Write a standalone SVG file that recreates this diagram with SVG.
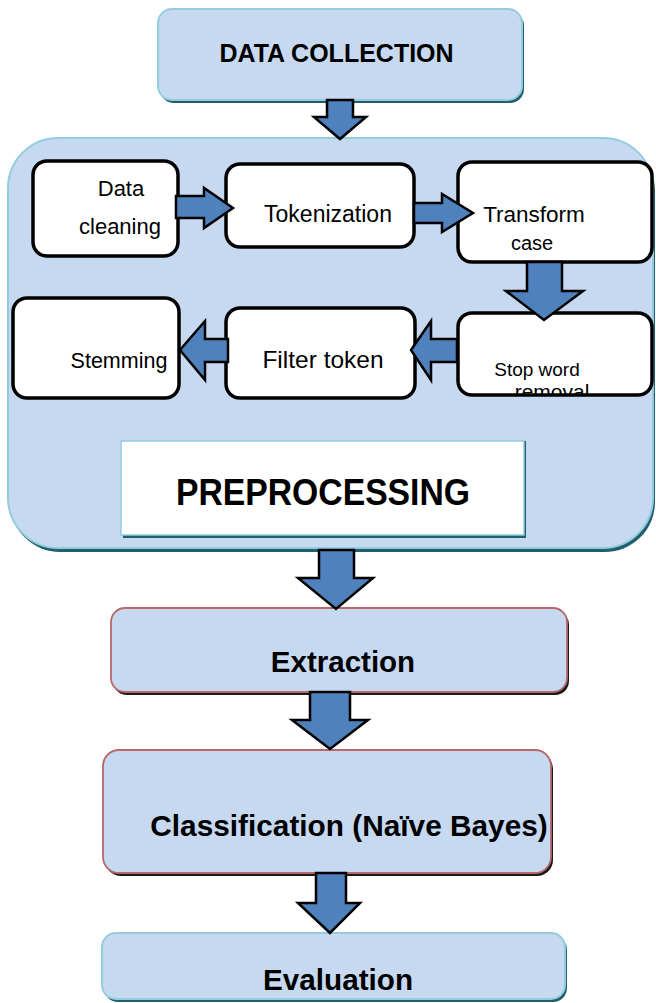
<svg xmlns="http://www.w3.org/2000/svg" width="656" height="1003" viewBox="0 0 656 1003">
<style>
.main{fill:#c6d9f1;stroke:#93cddd;stroke-width:2}
.red{fill:#c6d9f1;stroke:#b9676a;stroke-width:1.8}
.shT{fill:#215f6e}
.shK{fill:#1a1a1a}
.inner{fill:#ffffff;stroke:#000000;stroke-width:3.5}
.arr{fill:#4f81bd;stroke:#000000;stroke-width:2.5;stroke-linejoin:miter}
.t{font-family:"Liberation Sans",Arial,sans-serif;fill:#000000;text-anchor:middle}
.b{font-weight:bold}
</style>
<defs>
<clipPath id="clipStop"><rect x="458" y="313" width="194" height="82"/></clipPath>
</defs>

<g id="data-collection">
<rect class="shT" x="160" y="12" width="364" height="91" rx="14"/>
<rect class="main" x="158" y="9" width="364" height="91" rx="14"/>
<text class="t b" x="336.5" y="62" font-size="25">DATA COLLECTION</text>
</g>

<g id="preprocessing">
<rect class="shT" x="10" y="141" width="645" height="411" rx="50"/>
<rect class="main" x="8" y="138" width="645" height="410" rx="50"/>
<rect class="shT" x="123" y="441" width="403" height="97"/>
<rect x="121" y="441" width="403" height="94" fill="#ffffff" stroke="#93cddd" stroke-width="1.5"/>
<text class="t b" x="323" y="505" font-size="37" textLength="294" lengthAdjust="spacingAndGlyphs">PREPROCESSING</text>
</g>

<g id="data-cleaning">
<rect class="inner" x="33" y="161" width="145" height="95" rx="14"/>
<text class="t" x="121" y="196" font-size="22">Data</text>
<text class="t" x="120" y="234" font-size="22">cleaning</text>
</g>

<g id="tokenization">
<rect class="inner" x="226" y="164" width="188" height="83" rx="14"/>
<text class="t" x="328" y="222" font-size="23">Tokenization</text>
</g>

<g id="transform-case">
<rect class="inner" x="458" y="162" width="194" height="100" rx="14"/>
<text class="t" x="534" y="222" font-size="22.5">Transform</text>
<text class="t" x="532" y="250" font-size="20">case</text>
</g>

<g id="stop-word-removal">
<rect x="458" y="313" width="194" height="82" rx="14" fill="#ffffff"/>
<g clip-path="url(#clipStop)">
<text class="t" x="537" y="376" font-size="19">Stop word</text>
<text class="t" x="552" y="399" font-size="21">removal</text>
</g>
<rect x="458" y="313" width="194" height="82" rx="14" fill="none" stroke="#000000" stroke-width="3.5"/>
</g>

<g id="filter-token">
<rect class="inner" x="226" y="308" width="189" height="90" rx="14"/>
<text class="t" x="323" y="368" font-size="24.5">Filter token</text>
</g>

<g id="stemming">
<rect class="inner" x="13" y="298" width="166" height="100" rx="14"/>
<text class="t" x="119" y="368" font-size="21.5">Stemming</text>
</g>

<g id="extraction">
<rect class="shK" x="113" y="611" width="456" height="84" rx="14"/>
<rect class="red" x="111" y="608" width="456" height="84" rx="14"/>
<text class="t b" x="343" y="672" font-size="29.5">Extraction</text>
</g>

<g id="classification">
<rect class="shK" x="105" y="753" width="448" height="123" rx="16"/>
<rect class="red" x="103" y="750" width="448" height="123" rx="16"/>
<text class="t b" x="349" y="836" font-size="29.8">Classification (Naïve Bayes)</text>
</g>

<g id="evaluation">
<rect class="shT" x="104" y="936" width="463" height="66" rx="14"/>
<rect class="main" x="102" y="933" width="463" height="66" rx="14"/>
<text class="t b" x="338" y="990" font-size="29.7">Evaluation</text>
</g>

<g id="connectors">
<polygon class="arr" points="327,100 353,100 353,117 366,117 340,139 314,117 327,117"/>
<polygon class="arr" points="176,196 204,196 204,188 233,208 204,228 204,218 176,218"/>
<polygon class="arr" points="414,203 442,203 442,194 473,213 442,232 442,223 414,223"/>
<polygon class="arr" points="527,262 562,262 562,291 583,291 544,320 506,291 527,291"/>
<polygon class="arr" points="457,339 431,339 431,321 411,350 431,380 431,362 457,362"/>
<polygon class="arr" points="228,339 205,339 205,321 180,350 205,380 205,362 228,362"/>
<polygon class="arr" points="319,550 354,550 354,578 373,578 336,609 298,578 319,578"/>
<polygon class="arr" points="310,692 350,692 350,720 368,720 330,749 292,720 310,720"/>
<polygon class="arr" points="316,873 346,873 346,903 360,903 330,933 298,903 316,903"/>
</g>
</svg>
